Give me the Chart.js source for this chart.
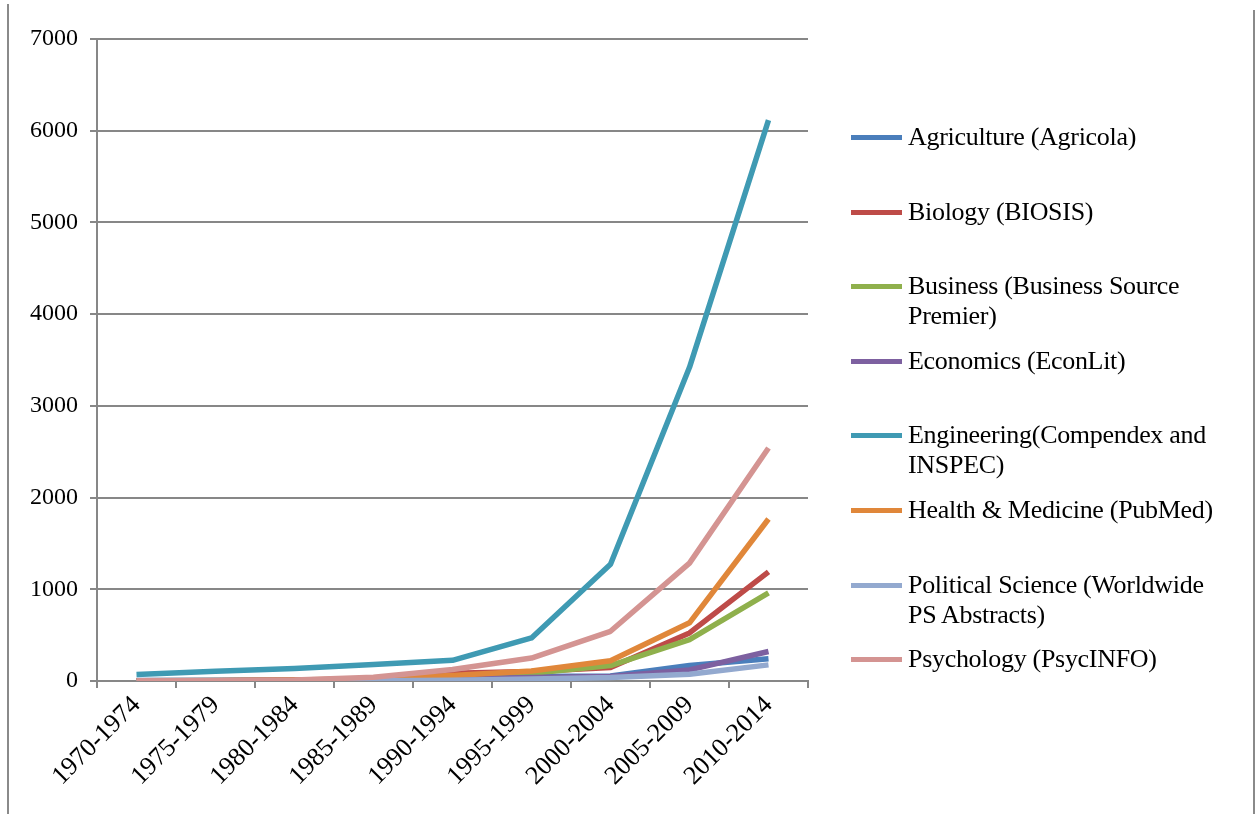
<!DOCTYPE html>
<html>
<head>
<meta charset="utf-8">
<script src="https://cdn.jsdelivr.net/npm/chart.js@4/dist/chart.umd.min.js"></script>
<style>
  html, body { margin: 0; padding: 0; background: #fff; }
  #wrap { position: relative; width: 1257px; height: 814px; overflow: hidden; }
  #chart { position: absolute; left: 0; top: 0; }
  .frame { position: absolute; width: 2px; background: #8a8a8a; }
  #legend { position: absolute; left: 0; top: 0; font-family: "Liberation Serif", "Times New Roman", serif; font-size: 26px; color: #000; }
  .item { position: absolute; left: 851px; }
  .item .mark { position: absolute; left: 0; width: 51px; height: 5px; top: 13px; }
  .item .txt { position: absolute; left: 57px; line-height: 30px; white-space: nowrap; letter-spacing: -0.3px; }
</style>
</head>
<body>
<div id="wrap">
  <canvas id="chart" width="1257" height="814"></canvas>
  <div class="frame" style="left:7px; top:4px; height:810px;"></div>
  <div class="frame" style="left:1253px; top:10px; height:804px;"></div>
  <div id="legend"></div>
</div>
<script>
// periods on the x axis
var periods = ['1970-1974', '1975-1979', '1980-1984', '1985-1989', '1990-1994',
               '1995-1999', '2000-2004', '2005-2009', '2010-2014'];

// series values
var agriculture = [5, 8, 12, 18, 29, 48, 55, 168, 242];
var biology = [2, 4, 8, 25, 84, 103, 147, 524, 1190];
var business = [1, 2, 4, 10, 30, 84, 168, 450, 960];
var economics = [1, 2, 4, 8, 22, 37, 48, 121, 322];
var engineering = [70, 105, 135, 180, 225, 470, 1272, 3420, 6115];
var health = [3, 6, 12, 25, 59, 110, 220, 634, 1766];
var polsci = [0, 1, 2, 4, 7, 22, 37, 73, 176];
var psychology = [2, 4, 12, 40, 125, 250, 542, 1285, 2540];

var seriesNames = [
    ['Agriculture (Agricola)'],
    ['Biology (BIOSIS)'],
    ['Business (Business Source', 'Premier)'],
    ['Economics (EconLit)'],
    ['Engineering(Compendex and', 'INSPEC)'],
    ['Health & Medicine (PubMed)'],
    ['Political Science (Worldwide', 'PS Abstracts)'],
    ['Psychology (PsycINFO)']
];
var seriesData = [agriculture, biology, business, economics, engineering, health, polsci, psychology];
var seriesColors = ['#4a7ebb', '#be4b48', '#8fb04c', '#7d60a0', '#3f9ab3', '#e0873a', '#93a9cf', '#d49492'];

var yTicks = [0, 1000, 2000, 3000, 4000, 5000, 6000, 7000];

var datasets = [];
for (var i = 0; i < seriesData.length; i++) {
    datasets.push({
        label: seriesNames[i].join(' '),
        data: seriesData[i],
        borderColor: seriesColors[i],
        backgroundColor: seriesColors[i],
        borderWidth: 5.5,
        pointRadius: 0,
        tension: 0,
        fill: false,
        borderJoinStyle: 'round',
        order: seriesData.length - i
    });
}

//legend on the right, one row every 74.6px
var $legend = document.getElementById('legend');
for (var j = 0; j < seriesNames.length; j++) {
    var item = document.createElement('div');
    item.className = 'item';
    item.style.top = (137 + j * 74.6 - 15) + 'px';
    var mark = document.createElement('div');
    mark.className = 'mark';
    mark.style.background = seriesColors[j];
    var txt = document.createElement('div');
    txt.className = 'txt';
    txt.innerHTML = seriesNames[j].map(function (s) {
        return s.replace(/&/g, '&amp;');
    }).join('<br>');
    item.appendChild(mark);
    item.appendChild(txt);
    $legend.appendChild(item);
}

var gridGray = '#878787';

const publications_chart = new Chart(document.getElementById('chart'), {
    type: 'line',
    data: { labels: periods, datasets: datasets },
    options: {
        responsive: false,
        animation: false,
        layout: { padding: { left: 0, top: 39, right: 449, bottom: 0 } },
        plugins: { legend: { display: false }, tooltip: { enabled: false } },
        scales: {
            x: {
                offset: true,
                grid: {
                    offset: true,
                    drawOnChartArea: false,
                    drawTicks: true,
                    tickLength: 7,
                    color: gridGray,
                    lineWidth: 2
                },
                border: { display: true, color: gridGray, width: 2 },
                ticks: {
                    maxRotation: 45,
                    minRotation: 45,
                    autoSkip: false,
                    padding: 2,
                    color: '#000',
                    font: { family: 'Liberation Serif', size: 26 }
                },
                afterFit: function (scale) { scale.height = 133; }
            },
            y: {
                min: 0,
                max: 7000,
                afterBuildTicks: function (scale) {
                    scale.ticks = yTicks.map(function (v) { return { value: v }; });
                },
                grid: {
                    color: gridGray,
                    lineWidth: 2,
                    tickLength: 7,
                    drawTicks: true
                },
                border: { display: true, color: gridGray, width: 2 },
                ticks: {
                    padding: 12,
                    color: '#000',
                    font: { family: 'Liberation Serif', size: 24 },
                    callback: function (value) { return String(value); }
                },
                afterFit: function (scale) { scale.width = 97; }
            }
        }
    }
});
</script>
</body>
</html>
